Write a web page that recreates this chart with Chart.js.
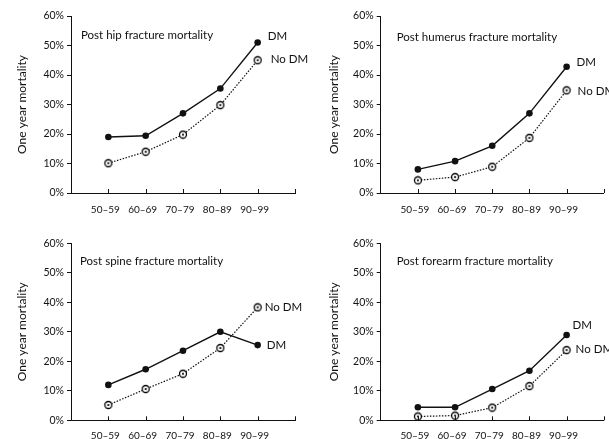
<!DOCTYPE html>
<html>
<head>
<meta charset="utf-8">
<script src="https://cdn.jsdelivr.net/npm/chart.js@4"></script>
<style>
  html, body { margin: 0; padding: 0; background: #fff; }
  #wrap { position: relative; width: 609px; height: 439px; overflow: hidden; }
  .panel { position: absolute; }
</style>
</head>
<body>
<div id="wrap">
  <div class="panel" style="left:0;top:0;width:330px;height:219px;"><canvas id="hipChart"></canvas></div>
  <div class="panel" style="left:304px;top:0;width:305px;height:219px;"><canvas id="humerusChart"></canvas></div>
  <div class="panel" style="left:0;top:219px;width:330px;height:240px;"><canvas id="spineChart"></canvas></div>
  <div class="panel" style="left:304px;top:219px;width:305px;height:240px;"><canvas id="forearmChart"></canvas></div>
</div>
<script>
// ---- data ----
const ageGroups = ["50–59", "60–69", "70–79", "80–89", "90–99"];
const yTickValues = [0, 10, 20, 30, 40, 50, 60];

const hipDM       = [19, 19.4, 27, 35.4, 51];
const hipNoDM     = [10.1, 14, 19.8, 29.8, 45];
const humerusDM   = [8, 10.8, 16, 27, 42.8];
const humerusNoDM = [4.3, 5.4, 8.9, 18.7, 34.8];
const spineDM     = [12, 17.3, 23.6, 30, 25.5];
const spineNoDM   = [5.2, 10.6, 15.8, 24.5, 38.3];
const forearmDM   = [4.4, 4.4, 10.6, 16.8, 28.9];
const forearmNoDM = [1.3, 1.6, 4.3, 11.6, 23.8];

const FONT = "Lato, 'Open Sans', sans-serif";
const INK = "#111";

// open circle with a dot in the middle (No DM marker)
function makeRingDot() {
    const c = document.createElement("canvas");
    c.width = 10; c.height = 10;
    const g = c.getContext("2d");
    g.beginPath();
    g.arc(5, 5, 3.5, 0, Math.PI * 2);
    g.fillStyle = "#fff";
    g.fill();
    g.lineWidth = 1.3;
    g.strokeStyle = "#000";
    g.stroke();
    g.beginPath();
    g.arc(5, 5, 1.1, 0, Math.PI * 2);
    g.fillStyle = "#000";
    g.fill();
    return c;
}
const ringDot = makeRingDot();

const toPoints = arr => arr.map((v, i) => ({ x: i + 1, y: v }));

// titles, y label, inward x ticks and end-of-line labels
const annotate = {
    id: "annotate",
    afterDraw(chart, args, o) {
        const { ctx, chartArea: a, scales: { x, y } } = chart;
        ctx.save();
        ctx.strokeStyle = INK;
        ctx.lineWidth = 1;
        ctx.beginPath();
        for (let v = 1; v <= 6; v++) {
            const px = Math.round(x.getPixelForValue(v)) + 0.5;
            ctx.moveTo(px, a.bottom);
            ctx.lineTo(px, a.bottom - 4);
        }
        ctx.stroke();

        ctx.fillStyle = INK;
        ctx.textBaseline = "middle";
        ctx.textAlign = "left";
        ctx.font = "11.5px " + FONT;
        ctx.fillText(o.title, a.left + o.titleDx, y.getPixelForValue(60) + o.titleDy);

        const lastX = x.getPixelForValue(5);
        ctx.fillText("DM", lastX + o.dm[0], y.getPixelForValue(o.dmVal) + o.dm[1]);
        ctx.fillText("No DM", lastX + o.nodm[0], y.getPixelForValue(o.nodmVal) + o.nodm[1]);

        ctx.translate(a.left + o.yTitleDx, (a.top + a.bottom) / 2);
        ctx.rotate(-Math.PI / 2);
        ctx.textAlign = "center";
        ctx.font = "12px " + FONT;
        ctx.fillText("One year mortality", 0, 0);
        ctx.restore();
    }
};

function makePanel(id, box, title, dm, nodm, labelPos) {
    const el = document.getElementById(id);
    return new Chart(el, {
        type: "line",
        data: {
            datasets: [
                {
                    label: "DM",
                    data: toPoints(dm),
                    borderColor: INK,
                    borderWidth: 1.4,
                    pointStyle: "circle",
                    pointRadius: 3.3,
                    pointBackgroundColor: INK,
                    pointBorderColor: INK,
                    pointBorderWidth: 0,
                    tension: 0
                },
                {
                    label: "No DM",
                    data: toPoints(nodm),
                    borderColor: INK,
                    borderWidth: 1.2,
                    borderDash: [1.5, 1.5],
                    pointStyle: ringDot,
                    tension: 0
                }
            ]
        },
        options: {
            responsive: true,
            maintainAspectRatio: false,
            animation: false,
            events: [],
            layout: { padding: { left: 0, top: box.top, right: box.w - box.right, bottom: 0 } },
            plugins: {
                legend: { display: false },
                tooltip: { enabled: false },
                annotate: {
                    title: title,
                    titleDx: labelPos.titleDx,
                    titleDy: labelPos.titleDy,
                    yTitleDx: labelPos.yTitleDx,
                    dm: labelPos.dm,
                    nodm: labelPos.nodm,
                    dmVal: dm[4],
                    nodmVal: nodm[4]
                }
            },
            scales: {
                x: {
                    type: "linear",
                    min: 0,
                    max: 6,
                    afterBuildTicks: s => { s.ticks = ageGroups.map((_, i) => ({ value: i + 1 })); },
                    afterFit: s => { s.height = box.h - box.bottom; },
                    grid: { display: false, drawTicks: false },
                    border: { display: true, color: INK, width: 1 },
                    ticks: {
                        padding: box.xPad,
                        labelOffset: -3,
                        autoSkip: false,
                        maxRotation: 0,
                        color: INK,
                        font: { family: FONT, size: 10 },
                        callback: v => ageGroups[v - 1] || ""
                    }
                },
                y: {
                    min: 0,
                    max: 60,
                    afterBuildTicks: s => { s.ticks = yTickValues.map(v => ({ value: v })); },
                    afterFit: s => { s.width = box.left; },
                    grid: { drawOnChartArea: false, drawTicks: true, tickLength: 4, color: INK },
                    border: { display: true, color: INK, width: 1 },
                    ticks: {
                        padding: 3,
                        color: INK,
                        font: { family: FONT, size: 10.5 },
                        callback: v => v + "%"
                    }
                }
            }
        },
        plugins: [annotate]
    });
}

const topBox  = { w: 330, h: 219, left: 71, right: 295, top: 16, bottom: 193, xPad: 11 };
const topBoxR = { w: 305, h: 219, left: 76.7, right: 300.7, top: 16, bottom: 193, xPad: 11 };
const botBox  = { w: 330, h: 240, left: 71, right: 295, top: 24.3, bottom: 201.3, xPad: 9 };
const botBoxR = { w: 305, h: 240, left: 76.7, right: 300.7, top: 24.3, bottom: 201.3, xPad: 9 };

makePanel("hipChart", topBox, "Post hip fracture mortality", hipDM, hipNoDM,
    { titleDx: 10, titleDy: 19, yTitleDx: -49, dm: [10, -6], nodm: [13, -1] });
makePanel("humerusChart", topBoxR, "Post humerus fracture mortality", humerusDM, humerusNoDM,
    { titleDx: 16, titleDy: 21, yTitleDx: -47, dm: [10, -4], nodm: [11, 1] });
makePanel("spineChart", botBox, "Post spine fracture mortality", spineDM, spineNoDM,
    { titleDx: 9, titleDy: 18, yTitleDx: -49, dm: [9, 0], nodm: [7, 0] });
makePanel("forearmChart", botBoxR, "Post forearm fracture mortality", forearmDM, forearmNoDM,
    { titleDx: 16, titleDy: 18, yTitleDx: -47, dm: [6, -10], nodm: [9, -1] });
</script>
</body>
</html>
